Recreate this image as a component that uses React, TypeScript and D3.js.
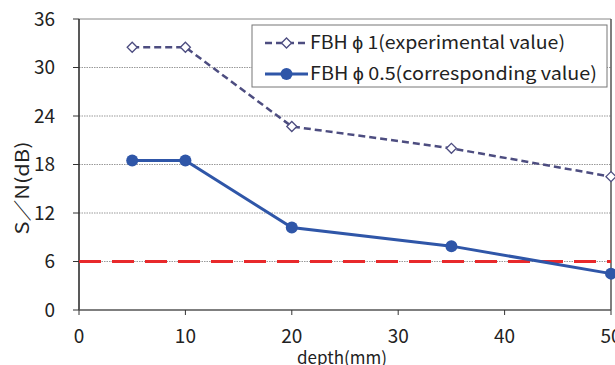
import React from "react";
import * as d3 from "d3";

const depths = [5, 10, 20, 35, 50];
const experimental = [32.5, 32.5, 22.7, 20.0, 16.5];
const corresponding = [18.5, 18.5, 10.2, 7.9, 4.5];
const threshold = 6;
const xTicks = [0, 10, 20, 30, 40, 50];
const yTicks = [0, 6, 12, 18, 24, 30, 36];
const legendLabels = ["FBH \u03d5 1(experimental value)", "FBH \u03d5 0.5(corresponding value)"];

const W = 615, H = 365;
const L = 79, R = 611, T = 19, B = 310;

export default function App() {
  const x = d3.scaleLinear().domain([0, 50]).range([L, R]);
  const y = d3.scaleLinear().domain([0, 36]).range([B, T]);
  const line = d3.line<number>().x((_, i) => x(depths[i])).y((d) => y(d));
  const font = "'Noto Sans CJK JP', 'Liberation Sans', sans-serif";
  const c1 = "#4d4d80";
  const c2 = "#2f56a8";
  return (
    <svg width={W} height={H} style={{ position: "absolute", left: 0, top: 0 }} fontFamily={font}>
      <rect width={W} height={H} fill="white" />
      {yTicks.filter((t) => t > 0 && t < 36).map((t) => (
        <line key={t} x1={L} x2={R} y1={y(t)} y2={y(t)} stroke="#999" strokeDasharray="1.5,1" strokeWidth={1} />
      ))}
      <line x1={L} x2={R} y1={T} y2={T} stroke="#888" strokeWidth={1} />
      <line x1={R} x2={R} y1={T} y2={B} stroke="#555" strokeWidth={1.5} />
      <line x1={L} x2={L} y1={T} y2={B} stroke="#222" strokeWidth={1.5} />
      <line x1={L} x2={R} y1={B} y2={B} stroke="#555" strokeWidth={1.5} />
      {yTicks.map((t) => (
        <g key={t}>
          <line x1={L - 6} x2={L} y1={y(t)} y2={y(t)} stroke="#333" strokeWidth={1} />
          <text x={55} y={y(t)} dy="0.35em" textAnchor="end" fontSize={19} fill="#222">{t}</text>
        </g>
      ))}
      {xTicks.map((t) => (
        <g key={t}>
          <line x1={x(t)} x2={x(t)} y1={B} y2={B + 5} stroke="#333" strokeWidth={1} />
          <text x={x(t)} y={343} textAnchor="middle" fontSize={19} fill="#222">{t}</text>
        </g>
      ))}
      <text transform={`translate(29,188) rotate(-90)`} textAnchor="middle" fontSize={18} fill="#222" textLength={93} lengthAdjust="spacingAndGlyphs">S／N(dB)</text>
      <text x={342} y={364} textAnchor="middle" fontSize={17} fill="#222">depth(mm)</text>
      <line x1={L} x2={R} y1={y(threshold)} y2={y(threshold)} stroke="#e8292b" strokeWidth={3} strokeDasharray="22,11" />
      <path d={line(experimental) || ""} fill="none" stroke={c1} strokeWidth={2.5} strokeDasharray="7,4" />
      {experimental.map((v, i) => {
        const cx = x(depths[i]), cy = y(v);
        return <path key={i} d={`M${cx - 5},${cy}L${cx},${cy - 5}L${cx + 5},${cy}L${cx},${cy + 5}Z`} fill="white" stroke={c1} strokeWidth={1.3} />;
      })}
      <path d={line(corresponding) || ""} fill="none" stroke={c2} strokeWidth={3} />
      {corresponding.map((v, i) => (
        <circle key={i} cx={x(depths[i])} cy={y(v)} r={6} fill={c2} />
      ))}
      <rect x={252} y={25} width={355} height={62} fill="white" stroke="#777" strokeWidth={1} />
      <line x1={265} x2={308} y1={43} y2={43} stroke={c1} strokeWidth={2.5} strokeDasharray="7,4" />
      <path d="M281.5,43L286.5,38L291.5,43L286.5,48Z" fill="white" stroke={c1} strokeWidth={1.3} />
      <text x={310} y={49} fontSize={18} fill="#222" textLength={255} lengthAdjust="spacingAndGlyphs">{legendLabels[0]}</text>
      <line x1={265} x2={308} y1={74} y2={74} stroke={c2} strokeWidth={3} />
      <circle cx={286.5} cy={74} r={6} fill={c2} />
      <text x={310} y={80} fontSize={18} fill="#222" textLength={287} lengthAdjust="spacingAndGlyphs">{legendLabels[1]}</text>
    </svg>
  );
}
